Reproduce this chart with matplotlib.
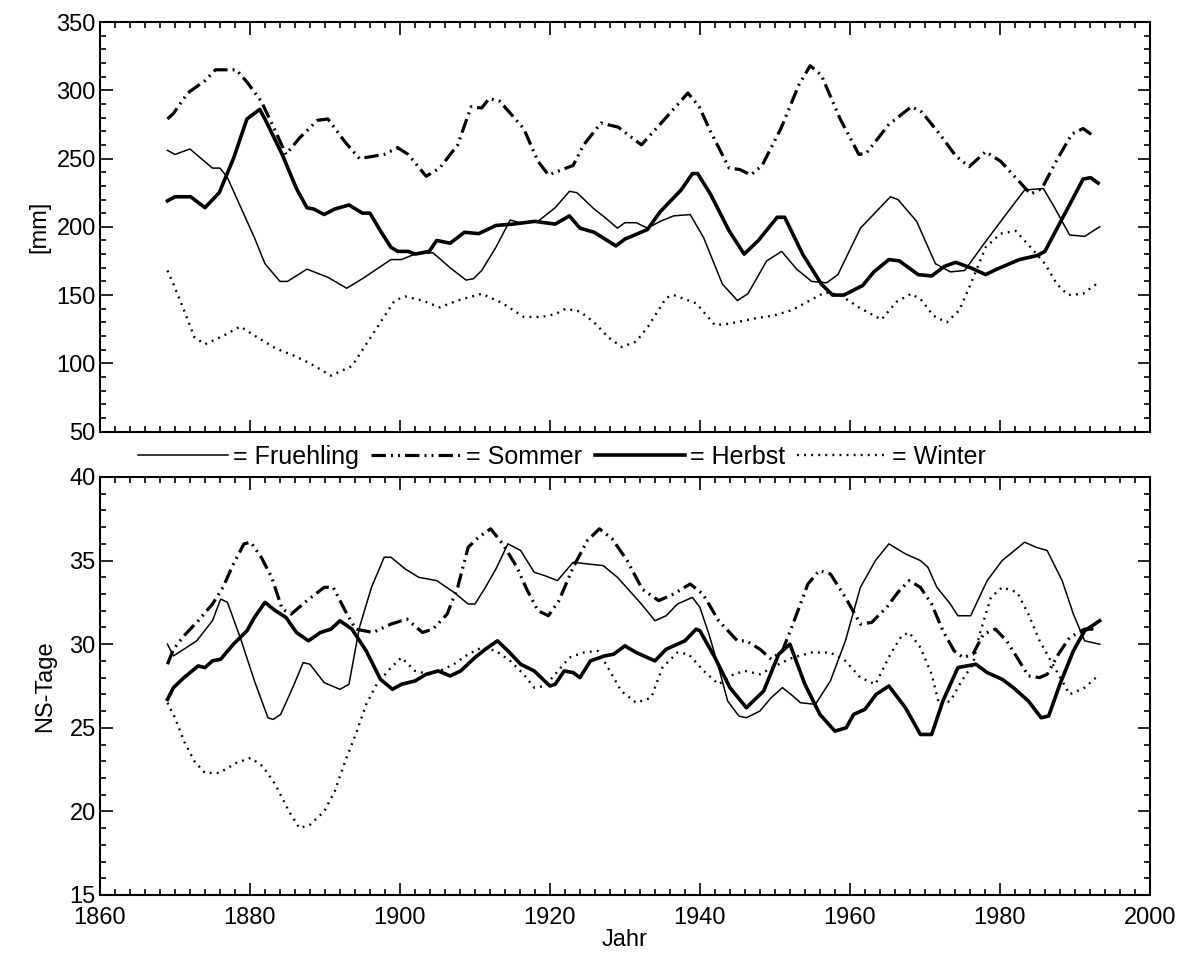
import numpy as np
import matplotlib
matplotlib.use('Agg')
import matplotlib.pyplot as plt
from matplotlib.ticker import MultipleLocator
from matplotlib.lines import Line2D

plt.rcParams['font.family'] = ['Liberation Sans', 'DejaVu Sans']

# ---- upper panel: precipitation [mm] ----
fr_year = [1869, 1870, 1872, 1875, 1876, 1877, 1880.6, 1882, 1884, 1885, 1887.6, 1890.4, 1892.9, 1895,
           1898.8, 1900.2, 1902, 1904.4, 1906.7, 1908.8, 1909.8, 1910.9, 1912.8, 1914.7, 1916, 1918.4,
           1920.7, 1922.6, 1923.6, 1925.9, 1927.3, 1929, 1930, 1931.5, 1933, 1934.7, 1936.5, 1938.7,
           1940.5, 1943, 1945, 1946.4, 1948.9, 1950.9, 1952.9, 1954.9, 1956.9, 1958.4, 1961.4, 1965.4,
           1966.4, 1968.9, 1971.4, 1973.4, 1975.3, 1977.8, 1980.8, 1983.3, 1985.8, 1987.3, 1989.3,
           1991.3, 1993.3]
fr_mm = [256, 253, 257, 243, 243, 236, 192, 173, 160, 160, 169, 163, 155, 162,
         176, 176, 180, 181, 170, 161, 162, 168, 185, 205, 203, 204,
         214, 226, 225, 213, 207, 199, 203, 203, 199, 204, 208, 209,
         192, 158, 146, 151, 175, 182, 169, 160, 159, 165, 199, 222,
         220, 204, 173, 167, 168, 187, 209, 227, 228, 214, 194,
         193, 200]

so_year = [1869, 1869.8, 1871.7, 1874, 1875.4, 1878.2, 1879.6, 1881.5, 1883.4, 1884.8, 1886.6, 1889,
           1890.4, 1892.7, 1894.6, 1897.9, 1899.7, 1901.1, 1903.5, 1905.3, 1907.7, 1909.5, 1910.9,
           1911.9, 1913.3, 1916.5, 1918.4, 1919.8, 1923.1, 1924.5, 1926.8, 1929.1, 1932.2, 1935,
           1938.4, 1939.9, 1941.4, 1943.9, 1945.3, 1946.8, 1948.3, 1950.8, 1953.2, 1954.7, 1956.2,
           1958.7, 1961.2, 1962.2, 1965.2, 1968.2, 1969.6, 1972.1, 1974.1, 1975.9, 1978.1, 1980.1,
           1982.6, 1984.1, 1985.6, 1987.6, 1989.6, 1991.1, 1992.6]
so_mm = [279, 283, 298, 307, 315, 315, 306, 292, 270, 253, 265, 278,
         279, 262, 250, 253, 258, 253, 237, 243, 260, 288, 287,
         294, 292, 272, 248, 238, 245, 260, 276, 273, 260, 277,
         298, 288, 270, 243, 242, 238, 245, 272, 304, 318, 311,
         279, 253, 254, 275, 288, 284, 267, 252, 244, 255, 248,
         233, 224, 228, 249, 268, 272, 266]

he_year = [1869, 1870, 1872.1, 1874, 1875.9, 1877.8, 1879.6, 1881.3, 1882, 1884.3, 1886.2, 1887.6,
           1888.5, 1889.9, 1891.3, 1893.2, 1895, 1896, 1897.4, 1898.8, 1899.7, 1901.1, 1902, 1903.9,
           1904.9, 1906.7, 1908.6, 1910.5, 1912.8, 1915.1, 1918, 1919.3, 1920.7, 1922.6, 1924,
           1925.9, 1928.8, 1930, 1933, 1934.7, 1937.5, 1939, 1939.7, 1941.4, 1943.9, 1945.9, 1947.8,
           1950.3, 1951.3, 1953.7, 1956.2, 1957.7, 1959.2, 1961.7, 1963.2, 1965.2, 1966.6, 1969.1,
           1970.9, 1972.6, 1974.1, 1976.1, 1978.1, 1979.6, 1982.6, 1985, 1986, 1988.6, 1991.1,
           1992.1, 1993.1]
he_mm = [219, 222, 222, 214, 225, 250, 279, 286, 279, 253, 228, 214,
         213, 209, 213, 216, 210, 210, 197, 185, 182, 182, 180, 182,
         190, 188, 196, 195, 201, 202, 204, 203, 202, 208, 199,
         196, 186, 191, 198, 211, 227, 239, 239, 224, 197, 180, 190,
         207, 207, 180, 158, 150, 150, 157, 167, 176, 175, 165,
         164, 171, 174, 170, 165, 169, 176, 179, 182, 209, 235,
         236, 232]

wi_year = [1869, 1869.8, 1871.2, 1872.6, 1874, 1876.4, 1878.7, 1881, 1883.4, 1885.7, 1888, 1890.8,
           1893.6, 1895.5, 1897.4, 1899.3, 1900.7, 1903, 1905.3, 1907.7, 1910.9, 1913.7, 1916.5,
           1918.9, 1920.7, 1922.1, 1924, 1925.9, 1927.8, 1929.6, 1931.5, 1933.1, 1935.5, 1936.5,
           1939.5, 1942, 1943.9, 1947.4, 1949.8, 1952.3, 1954.3, 1956.7, 1958.7, 1961.2, 1964.2,
           1966.2, 1968.2, 1969.6, 1971.1, 1972.9, 1974.6, 1976.1, 1978.1, 1980.1, 1982.1, 1984.1,
           1986, 1987.6, 1989.1, 1991.1, 1993.1]
wi_mm = [168, 158, 139, 119, 114, 120, 127, 119, 111, 106, 100, 91,
         98, 114, 130, 146, 149, 146, 141, 146, 151, 144, 134,
         134, 136, 140, 138, 130, 119, 112, 116, 127, 148, 150,
         144, 128, 129, 133, 135, 139, 145, 152, 150, 141, 132,
         145, 151, 146, 135, 130, 139, 158, 185, 195, 197, 185,
         173, 158, 150, 151, 159]

# ---- lower panel: number of precipitation days ----
fr2_year = [1869, 1869.8, 1871.2, 1872.9, 1875, 1876.1, 1877, 1878.7, 1880.6, 1882.4, 1883.1, 1884.1,
            1885.7, 1887.1, 1888, 1889.9, 1892, 1893.2, 1894.6, 1896.2, 1897.9, 1898.8, 1900.7,
            1902.5, 1904.9, 1907.2, 1909.1, 1910, 1911.4, 1912.8, 1914.4, 1916.1, 1917.9, 1919.3,
            1921, 1923.1, 1925, 1927.1, 1929, 1930.8, 1932.2, 1934, 1935.5, 1937, 1939, 1940,
            1941.2, 1942.5, 1943.7, 1945.2, 1946.2, 1948, 1949.5, 1951, 1952.4, 1953.4, 1955.4,
            1957.4, 1959.4, 1961.4, 1963.4, 1965.2, 1967.4, 1969.4, 1970.4, 1971.6, 1973.4, 1974.4,
            1976.1, 1978.3, 1980.3, 1983.3, 1984.8, 1986.3, 1988.3, 1989.8, 1991.3, 1993.3]
fr2_nd = [30.0, 29.3, 29.7, 30.2, 31.4, 32.7, 32.5, 30.4, 27.8, 25.6, 25.5, 25.8,
          27.4, 28.9, 28.8, 27.7, 27.3, 27.6, 31.0, 33.4, 35.2, 35.2, 34.5,
          34.0, 33.8, 33.1, 32.4, 32.4, 33.4, 34.5, 36.0, 35.6, 34.3, 34.1,
          33.8, 34.9, 34.8, 34.7, 34.0, 33.1, 32.4, 31.4, 31.7, 32.4, 32.8, 32.2,
          30.6, 28.6, 26.6, 25.7, 25.6, 26.0, 26.8, 27.4, 26.9, 26.5, 26.4,
          27.8, 30.2, 33.4, 35.0, 36.0, 35.4, 35.0, 34.6, 33.4, 32.4, 31.7,
          31.7, 33.8, 35.0, 36.1, 35.8, 35.6, 33.8, 31.8, 30.2, 30.0]

so2_year = [1869, 1869.8, 1871.2, 1873.1, 1875, 1876.4, 1877.8, 1879.2, 1880.1, 1881.5, 1882.9,
            1884.3, 1885.5, 1887.6, 1889.9, 1891.1, 1892.7, 1894.1, 1896.4, 1898.8, 1900.9, 1903,
            1904.4, 1906.3, 1907.7, 1909.1, 1910.5, 1912.1, 1913.7, 1915.6, 1917, 1918.4, 1919.8,
            1921.2, 1923.1, 1925, 1926.6, 1928.3, 1930.3, 1932.3, 1934.5, 1936.5, 1938.7, 1940.4,
            1942.5, 1945, 1946.2, 1948, 1949.5, 1951, 1952.4, 1954.4, 1955.9, 1957.4, 1959.4,
            1961.4, 1962.9, 1964.9, 1966.4, 1967.9, 1969.4, 1970.9, 1972.4, 1973.9, 1975.1, 1976.4,
            1977.8, 1979.4, 1980.9, 1982.3, 1983.8, 1985.3, 1986.3, 1987.8, 1989.3, 1991.3, 1992.8]
so2_nd = [28.8, 29.7, 30.5, 31.4, 32.4, 33.4, 34.8, 36.0, 36.1, 35.2, 34.0,
          32.1, 31.8, 32.6, 33.4, 33.4, 32.0, 30.9, 30.7, 31.2, 31.5, 30.7,
          30.9, 31.8, 33.4, 35.8, 36.4, 36.9, 36.0, 34.6, 33.2, 32.0, 31.7,
          32.6, 34.6, 36.2, 36.9, 36.3, 35.0, 33.3, 32.6, 33.0, 33.6, 33.0,
          31.4, 30.2, 30.2, 29.7, 29.1, 29.6, 31.2, 33.6, 34.4, 34.2, 32.8,
          31.2, 31.3, 32.2, 33.1, 33.8, 33.4, 32.4, 30.8, 29.6, 29.2, 29.4,
          30.6, 30.9, 30.2, 29.2, 28.1, 28.0, 28.2, 29.4, 30.4, 30.9, 30.9]

he2_year = [1869, 1869.8, 1871.2, 1873.1, 1874, 1875, 1876.1, 1877.8, 1879.6, 1880.6, 1882, 1883.4,
            1884.8, 1886.2, 1887.8, 1889.4, 1890.8, 1892, 1893.6, 1895.5, 1897.4, 1899, 1900.2, 1902,
            1903.5, 1905.1, 1906.7, 1908.1, 1910, 1911.4, 1913, 1914.4, 1916.1, 1917.9, 1920,
            1920.7, 1921.9, 1923.1, 1924, 1925.4, 1927.3, 1928.5, 1930, 1931.5, 1934, 1935.5, 1938,
            1939.5, 1940, 1942, 1944, 1946.2, 1948.5, 1950.5, 1952, 1954, 1956, 1958, 1959.5,
            1960.5, 1962, 1963.5, 1965.2, 1967.4, 1969.4, 1970.9, 1972.4, 1974.4, 1976.8, 1978.3,
            1980.3, 1981.8, 1983.8, 1985.5, 1986.5, 1988, 1989.8, 1991.3, 1993.3]
he2_nd = [26.7, 27.4, 28.0, 28.7, 28.6, 29.0, 29.1, 30.0, 30.8, 31.6, 32.5, 32.0,
          31.6, 30.7, 30.2, 30.7, 30.9, 31.4, 30.9, 29.6, 27.9, 27.3, 27.6, 27.8,
          28.2, 28.4, 28.1, 28.4, 29.2, 29.7, 30.2, 29.6, 28.8, 28.4, 27.5,
          27.6, 28.4, 28.3, 28.0, 29.0, 29.3, 29.4, 29.9, 29.5, 29.0, 29.7, 30.2,
          30.9, 30.8, 29.2, 27.4, 26.2, 27.2, 29.4, 30.0, 27.6, 25.8, 24.8, 25.0,
          25.8, 26.1, 27.0, 27.5, 26.2, 24.6, 24.6, 26.6, 28.6, 28.8, 28.3,
          27.9, 27.4, 26.6, 25.6, 25.7, 27.6, 29.6, 30.8, 31.4]

wi2_year = [1869, 1870, 1871.2, 1872.6, 1874, 1875.9, 1878.2, 1880.1, 1881.7, 1883.4, 1885.2, 1886.6,
            1888, 1889.9, 1891.3, 1892.7, 1894.1, 1895.5, 1896.9, 1898.8, 1900.2, 1902, 1903.9,
            1905.3, 1907.2, 1909.1, 1910.9, 1912.8, 1914.7, 1916.5, 1917.9, 1919.3, 1920.7, 1922.6,
            1924.5, 1926.4, 1928, 1929.5, 1931.5, 1933.5, 1935, 1937, 1938.5, 1940.5, 1942.5,
            1944.5, 1946, 1948, 1950.5, 1952.4, 1954.9, 1957.4, 1959.4, 1961.4, 1963.4, 1965.4,
            1966.9, 1967.9, 1969.4, 1970.9, 1971.9, 1973.4, 1974.9, 1976.4, 1977.3, 1978.8, 1980.3,
            1982.3, 1983.8, 1985.3, 1987.3, 1989.3, 1991.3, 1993.3]
wi2_nd = [26.5, 25.6, 24.2, 23.0, 22.3, 22.3, 22.9, 23.2, 22.7, 21.6, 20.0, 19.0,
          19.2, 20.0, 21.2, 23.0, 24.6, 26.4, 27.6, 28.6, 29.2, 28.4, 28.2,
          28.4, 28.8, 29.4, 29.8, 29.6, 29.0, 28.2, 27.4, 27.5, 28.2, 29.2,
          29.5, 29.6, 28.4, 27.2, 26.5, 26.8, 28.6, 29.5, 29.4, 28.4, 27.6,
          28.2, 28.4, 28.2, 28.8, 29.2, 29.5, 29.5, 29.0, 28.0, 27.6, 29.4,
          30.5, 30.7, 29.8, 28.2, 26.4, 26.6, 27.8, 28.8, 30.6, 32.8, 33.4,
          33.1, 31.8, 30.2, 28.6, 27.0, 27.4, 28.2]

labels = ['= Fruehling', '= Sommer', '= Herbst', '= Winter']

# line styles of the four seasons
sty_fr = dict(color='black', lw=1.1, ls='-')
sty_so = dict(color='black', lw=2.3, ls=(0, (4.5, 1.6, 0.6, 1.6, 0.6, 1.6)))
sty_he = dict(color='black', lw=2.6, ls='-')
sty_wi = dict(color='black', lw=1.7, ls=(0, (0.8, 2.2)))

fig = plt.figure(figsize=(11.83, 9.57), dpi=100)
ax1 = fig.add_axes([0.0845, 0.549, 0.8875, 0.428])
ax2 = fig.add_axes([0.0845, 0.0648, 0.8875, 0.4368])


def style_axis(ax, ylo, yhi, ymaj, ymin):
    ax.set_xlim(1860, 2000)
    ax.set_ylim(ylo, yhi)
    ax.xaxis.set_major_locator(MultipleLocator(20))
    ax.xaxis.set_minor_locator(MultipleLocator(2))
    ax.yaxis.set_major_locator(MultipleLocator(ymaj))
    ax.yaxis.set_minor_locator(MultipleLocator(ymin))
    ax.tick_params(which='both', direction='in', top=True, right=True,
                   labelsize=17, width=1.2)
    ax.tick_params(axis='x', pad=9)
    ax.tick_params(axis='y', pad=3)
    ax.tick_params(which='major', length=9)
    ax.tick_params(which='minor', length=4)
    for sp in ax.spines.values():
        sp.set_linewidth(1.5)


ax1.plot(fr_year, fr_mm, **sty_fr)
ax1.plot(so_year, so_mm, **sty_so)
ax1.plot(he_year, he_mm, **sty_he)
ax1.plot(wi_year, wi_mm, **sty_wi)
style_axis(ax1, 50, 350, 50, 10)
ax1.set_xticklabels([])
ax1.set_ylabel('[mm]', fontsize=17, labelpad=4)

ax2.plot(fr2_year, fr2_nd, **sty_fr)
ax2.plot(so2_year, so2_nd, **sty_so)
ax2.plot(he2_year, he2_nd, **sty_he)
ax2.plot(wi2_year, wi2_nd, **sty_wi)
style_axis(ax2, 15, 40, 5, 1)
ax2.set_ylabel('NS-Tage', fontsize=17, labelpad=10)
ax2.set_xlabel('Jahr', fontsize=17, labelpad=0)

handles = [Line2D([], [], **sty_fr), Line2D([], [], **sty_so),
           Line2D([], [], **sty_he), Line2D([], [], **sty_wi)]
fig.legend(handles, labels, loc='center', bbox_to_anchor=(0.475, 0.5225), ncol=4,
           frameon=False, fontsize=18, handlelength=3.6, handletextpad=0.2,
           columnspacing=0.5)

fig.savefig('out.png', dpi=100)
